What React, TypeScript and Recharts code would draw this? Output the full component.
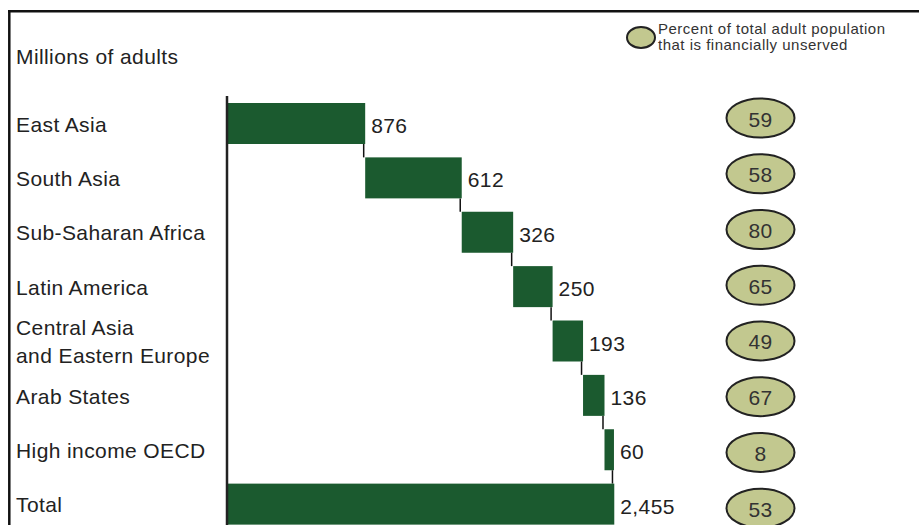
import React from 'react';
import { ComposedChart, Bar, XAxis, YAxis, LabelList, Customized } from 'recharts';

const categories = [
  'East Asia',
  'South Asia',
  'Sub-Saharan Africa',
  'Latin America',
  'Central Asia\nand Eastern Europe',
  'Arab States',
  'High income OECD',
  'Total',
];
const adultsMillions = [876, 612, 326, 250, 193, 136, 60, 2455];
const unservedPct = [59, 58, 80, 65, 49, 67, 8, 53];
const unitLabel = 'Millions of adults';
const legendLines = ['Percent of total adult population', 'that is financially unserved'];

const FONT = '"Liberation Sans", Arial, Helvetica, sans-serif';
const W = 919;
const H = 531;
const MARGIN = { top: 96, right: 61, bottom: 0, left: 0 };
const BAR_SIZE = 41;
const BAND = (H - MARGIN.top - MARGIN.bottom) / categories.length;
const GAP = BAND - BAR_SIZE;
const BAR_COLOR = '#1b5a2f';
const ELLIPSE_FILL = '#c2c88f';
const TEXT = '#222';
const FS = 21;
const LS = 0.4;

const lastIdx = categories.length - 1;
const data = categories.map((name, i) => {
  const isTotal = i === lastIdx;
  const base = isTotal ? 0 : adultsMillions.slice(0, i).reduce((a, b) => a + b, 0);
  return { name, base, value: adultsMillions[i], pct: unservedPct[i] };
});

const WaterfallBar = (props: any) => {
  const { x, y, width, height, index } = props;
  const end = x + width;
  return (
    <g>
      <rect x={x} y={y} width={width} height={height} fill={BAR_COLOR} />
      {index < lastIdx && (
        <line x1={end - 1.5} x2={end - 1.5} y1={y + height} y2={y + height + GAP} stroke="#111" strokeWidth={1.5} />
      )}
    </g>
  );
};

const EllipseShape = (props: any) => {
  const { y, height, payload } = props;
  const cy = y + height / 2;
  const cx = 760.5;
  return (
    <g>
      <ellipse cx={cx} cy={cy} rx={34} ry={19.5} fill={ELLIPSE_FILL} stroke="#222" strokeWidth={2} />
      <text x={cx} y={cy + 1} textAnchor="middle" dominantBaseline="central" fontFamily={FONT} fontSize={FS} letterSpacing={0.3} fill="#333">
        {payload.pct}
      </text>
    </g>
  );
};

const ValueLabel = (props: any) => {
  const { x, y, width, height, value } = props;
  return (
    <text x={x + width + 6} y={y + height / 2 + 2} dominantBaseline="central" fontFamily={FONT} fontSize={FS} letterSpacing={LS} fill={TEXT}>
      {Number(value).toLocaleString('en-US')}
    </text>
  );
};

const CategoryTick = (props: any) => {
  const { y, payload } = props;
  const lines = String(payload.value).split('\n');
  const lh = 28;
  const start = y + 1 - ((lines.length - 1) * lh) / 2;
  return (
    <text fontFamily={FONT} fontSize={FS} letterSpacing={LS} fill={TEXT} textAnchor="start">
      {lines.map((l, k) => (
        <tspan key={k} x={16} y={start + k * lh} dominantBaseline="central">
          {l}
        </tspan>
      ))}
    </text>
  );
};

const Decorations = () => (
  <g>
    <line x1={8} x2={919} y1={11.3} y2={11.3} stroke="#111" strokeWidth={2.5} />
    <line x1={9.3} x2={9.3} y1={10} y2={531} stroke="#111" strokeWidth={2.5} />
    <text x={16} y={64} fontFamily={FONT} fontSize={FS} letterSpacing={LS} fill={TEXT}>
      {unitLabel}
    </text>
    <ellipse cx={641} cy={37.5} rx={14} ry={10.5} fill={ELLIPSE_FILL} stroke="#222" strokeWidth={2} />
    {legendLines.map((t, k) => (
      <text key={k} x={658} y={34 + k * 16} fontFamily={FONT} fontSize={15} letterSpacing={0.5} fill="#333">
        {t}
      </text>
    ))}
  </g>
);

export default function App() {
  return (
    <div style={{ position: 'absolute', left: 0, top: 0, width: W, height: 525, overflow: 'hidden', background: '#fff' }}>
      <ComposedChart width={W} height={H} data={data} layout="vertical" margin={MARGIN}>
        <XAxis type="number" xAxisId={0} domain={[0, 4000]} hide />
        <XAxis type="number" xAxisId="pctX" domain={[0, 100]} hide />
        <YAxis
          type="category"
          yAxisId={0}
          dataKey="name"
          width={227}
          axisLine={{ stroke: '#222', strokeWidth: 2.5 }}
          tickLine={false}
          tick={<CategoryTick />}
          interval={0}
        />
        <YAxis type="category" yAxisId="pct" dataKey="name" hide padding={{ top: -5.5, bottom: -5.4 }} />
        <Bar dataKey="base" stackId="w" xAxisId={0} yAxisId={0} fill="transparent" barSize={BAR_SIZE} isAnimationActive={false} />
        <Bar dataKey="value" stackId="w" xAxisId={0} yAxisId={0} barSize={BAR_SIZE} shape={<WaterfallBar />} isAnimationActive={false}>
          <LabelList dataKey="value" content={<ValueLabel />} />
        </Bar>
        <Bar dataKey="pct" xAxisId="pctX" yAxisId="pct" barSize={BAR_SIZE} shape={<EllipseShape />} isAnimationActive={false} />
        <Customized component={Decorations} />
      </ComposedChart>
    </div>
  );
}
